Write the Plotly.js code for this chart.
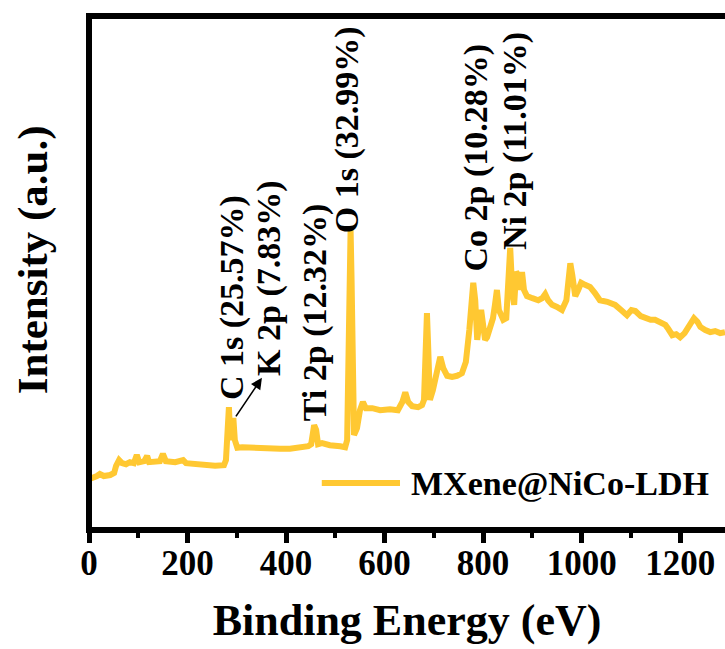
<!DOCTYPE html>
<html>
<head>
<meta charset="utf-8">
<script src="https://cdn.plot.ly/plotly-3.0.1.min.js"></script>
<style>
  html, body { margin: 0; padding: 0; background: #fff; overflow: hidden; }
  #chart { width: 725px; height: 649px; }
</style>
</head>
<body>
<div id="chart"></div>
<script>
// XPS survey spectrum of MXene@NiCo-LDH
const seriesName = 'MXene@NiCo-LDH';

// Binding energy (eV)
const bindingEnergy = [
  0, 8, 16, 22, 30, 43, 51, 55, 61, 67, 75, 83, 91, 97, 102, 112, 118, 122, 134, 144,
  150, 156, 175, 191, 197, 215, 236, 256, 274, 278, 284, 287, 290, 293, 296, 301, 311, 327, 347, 368,
  388, 408, 424, 435, 445, 451, 457, 461, 465, 473, 489, 510, 520, 524, 528, 531, 533, 535, 538, 544,
  550, 556, 562, 575, 591, 611, 627, 636, 642, 648, 656, 668, 676, 680, 684, 686, 688, 692, 698, 707,
  713, 719, 727, 737, 747, 757, 765, 772, 776, 780, 784, 788, 792, 796, 800, 804, 808, 814, 820, 824,
  828, 832, 841, 847, 851, 855, 859, 863, 867, 871, 875, 879, 883, 889, 900, 912, 920, 926, 932, 940,
  950, 960, 969, 973, 977, 981, 987, 993, 999, 1007, 1017, 1027, 1037, 1052, 1068, 1080, 1092, 1101, 1109, 1120,
  1129, 1140, 1149, 1160, 1170, 1176, 1184, 1192, 1200, 1209, 1218, 1224, 1228, 1235, 1241, 1251, 1261, 1271, 1281, 1291
];

// Intensity (a.u.)
const intensity = [
  9.9, 10.1, 10.5, 10.9, 10.5, 10.7, 11.1, 12.5, 13.6, 13.0, 12.8, 13.2, 13.0, 14.6, 13.2, 13.4, 14.4, 13.2, 13.2, 13.4,
  14.8, 13.4, 13.2, 13.6, 13.0, 12.8, 12.6, 12.5, 12.6, 13.6, 23.9, 17.5, 19.5, 21.8, 17.5, 16.0, 16.1, 16.0, 16.0, 16.0,
  15.8, 15.8, 16.1, 16.1, 16.3, 16.7, 20.4, 19.5, 16.7, 16.9, 16.5, 16.3, 16.1, 17.5, 44.7, 58.4, 48.6, 21.4, 18.5, 19.8,
  23.3, 24.9, 23.7, 23.7, 23.3, 23.5, 23.3, 24.9, 26.8, 24.9, 24.1, 23.9, 24.3, 25.3, 38.9, 42.2, 37.0, 25.3, 27.2, 31.1,
  33.7, 31.5, 30.0, 29.8, 30.0, 30.5, 32.7, 38.9, 44.7, 48.1, 44.7, 37.0, 39.9, 42.8, 39.9, 37.0, 37.5, 39.3, 41.2, 43.8,
  46.7, 42.8, 40.9, 41.2, 46.7, 54.9, 46.7, 43.8, 50.2, 49.6, 46.7, 50.2, 46.7, 45.5, 45.1, 44.7, 45.1, 45.9, 44.7, 43.8,
  43.4, 42.8, 44.7, 49.6, 51.9, 49.6, 45.5, 46.7, 48.1, 47.7, 47.3, 46.1, 44.7, 44.4, 43.8, 42.8, 41.8, 42.8, 42.6, 41.6,
  41.2, 40.9, 40.9, 40.5, 39.9, 39.1, 37.9, 38.1, 37.5, 38.3, 39.9, 40.9, 41.2, 40.5, 39.5, 38.9, 38.5, 38.7, 38.3, 38.5
];

// Peak assignments with atomic percentages, and where each label is centred
const peakLabels = ['C 1s (25.57%)', 'K 2p (7.83%)', 'Ti 2p (12.32%)', 'O 1s (32.99%)', 'Co 2p (10.28%)', 'Ni 2p (11.01%)'];
const peakLabelX = [290, 364, 458, 524, 785, 865];
const peakLabelY = [45.3, 49.1, 42.3, 77.8, 72.4, 75.7];

const xTickValues = [0, 200, 400, 600, 800, 1000, 1200];

const serif = 'Liberation Serif';
const lineColor = '#FFC832';

const annotations = peakLabels.map((t, i) => ({
  text: t, x: peakLabelX[i], y: peakLabelY[i], xref: 'x', yref: 'y',
  textangle: -90, showarrow: false, xanchor: 'center', yanchor: 'middle',
  font: { family: serif, size: 34, color: '#000', weight: 'bold' }
}));

// arrow pointing from the C 1s shoulder to the K 2p label
annotations.push({
  x: 351, y: 29.6, xref: 'x', yref: 'y', text: '', showarrow: true,
  ax: -27, ay: 40, arrowhead: 2, arrowsize: 1.4, arrowwidth: 1.6, arrowcolor: '#000'
});

// y-axis title
annotations.push({
  text: 'Intensity (a.u.)', xref: 'paper', yref: 'paper', x: -0.088, y: 0.525,
  textangle: -90, showarrow: false, xanchor: 'center', yanchor: 'middle',
  font: { family: serif, size: 43, color: '#000', weight: 'bold' }
});

// legend entry
annotations.push({
  text: seriesName, xref: 'paper', yref: 'paper', x: 0.503, y: 0.0914,
  showarrow: false, xanchor: 'left', yanchor: 'middle',
  font: { family: serif, size: 34, color: '#000', weight: 'bold' }
});

const trace = {
  x: bindingEnergy, y: intensity, type: 'scatter', mode: 'lines', name: seriesName,
  line: { color: lineColor, width: 6, shape: 'linear' }, showlegend: false
};

const layout = {
  width: 725, height: 649,
  margin: { l: 89, r: 0, t: 16, b: 119 },
  paper_bgcolor: '#fff', plot_bgcolor: '#fff',
  font: { family: serif, color: '#000' },
  xaxis: {
    range: [0, 1291], showgrid: false, zeroline: false, showline: false,
    tickmode: 'array', tickvals: xTickValues, ticktext: xTickValues.map(String),
    ticks: 'outside', ticklen: 12, tickwidth: 5, tickcolor: '#000', ticklabelstandoff: -10,
    minor: { ticks: 'outside', dtick: 100, tick0: 0, ticklen: 7, tickwidth: 4, tickcolor: '#000', showgrid: false },
    tickfont: { family: serif, size: 35, color: '#000', weight: 'bold' },
    title: { text: 'Binding Energy (eV)', font: { family: serif, size: 44, color: '#000', weight: 'bold' }, standoff: 22 }
  },
  yaxis: {
    range: [0, 100], showgrid: false, zeroline: false, showline: false,
    showticklabels: false, ticks: ''
  },
  shapes: [
    // frame: left, top and bottom spines
    { type: 'path', xref: 'paper', yref: 'paper', path: 'M 1.02,0 L 0,0 L 0,1 L 1.02,1',
      line: { color: '#000', width: 6 }, layer: 'above' },
    // legend sample line
    { type: 'line', xref: 'paper', yref: 'paper', x0: 0.366, x1: 0.489, y0: 0.0914, y1: 0.0914,
      line: { color: lineColor, width: 6 } }
  ],
  annotations: annotations
};

Plotly.newPlot('chart', [trace], layout, { displayModeBar: false, staticPlot: true });
</script>
</body>
</html>
